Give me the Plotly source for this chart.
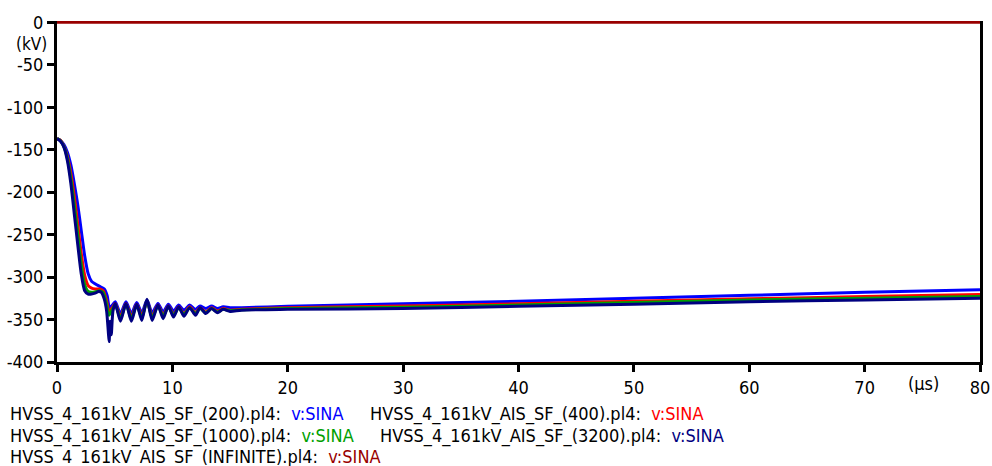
import plotly.graph_objects as go

FONT = "DejaVu Sans Condensed, Liberation Sans, Arial, sans-serif"

# Time axis in microseconds, voltage in kV (node SINA)
labels = [
    "HVSS_4_161kV_AIS_SF_(200).pl4:",
    "HVSS_4_161kV_AIS_SF_(400).pl4:",
    "HVSS_4_161kV_AIS_SF_(1000).pl4:",
    "HVSS_4_161kV_AIS_SF_(3200).pl4:",
    "HVSS_4_161kV_AIS_SF_(INFINITE).pl4:",
]
signal = "v:SINA"
colors = ["#0000ff", "#ff0000", "#00a000", "#000080", "#990000"]

t_200 = [0, 0.3, 0.6, 0.9, 1.2, 1.5, 1.8, 2.1, 2.4, 2.7, 3.0, 3.3, 3.7, 4.1, 4.35, 4.55,
         4.8, 5.05, 5.5, 5.98, 6.45, 6.91, 7.35, 7.8, 8.25, 8.75, 9.2, 9.65, 10.1, 10.55,
         11.0, 11.5, 12.0, 12.4, 12.9, 13.4, 13.9, 14.4, 15, 16, 20, 30, 40, 50, 60, 70, 80]
v_200 = [-137, -139, -144, -153, -168, -190, -215, -245, -275, -296, -305, -308, -311, -314, -322, -336,
         -333, -329, -343, -329, -343, -330, -342, -327, -342, -331, -341, -332, -340, -333,
         -339, -333, -338, -334, -337, -334, -337, -335, -336, -336, -334.5, -331.5, -328.5, -325, -321.5, -318, -315]

t_400 = [0, 0.3, 0.6, 0.9, 1.2, 1.5, 1.8, 2.1, 2.4, 2.7, 3.0, 3.3, 3.7, 4.0, 4.3, 4.5,
         4.8, 5.05, 5.5, 5.98, 6.45, 6.91, 7.35, 7.8, 8.25, 8.75, 9.2, 9.65, 10.1, 10.55,
         11.0, 11.5, 12.0, 12.4, 12.9, 13.4, 13.9, 14.4, 15, 16, 20, 30, 40, 50, 60, 70, 80]
v_400 = [-137, -139, -146, -158, -178, -205, -238, -272, -298, -310, -313, -314, -314, -316, -328, -340,
         -336, -331, -347, -331, -347, -332, -346, -328, -346, -333, -345, -334, -344, -335,
         -343, -335, -342, -336, -341, -336, -340, -337, -339, -338, -336, -334, -331.5, -328.5, -325.5, -323, -320.5]

t_1000 = [0, 0.3, 0.6, 0.9, 1.2, 1.5, 1.8, 2.1, 2.4, 2.7, 3.0, 3.3, 3.7, 4.0, 4.3, 4.5,
          4.8, 5.05, 5.5, 5.98, 6.45, 6.91, 7.35, 7.8, 8.25, 8.75, 9.2, 9.65, 10.1, 10.55,
          11.0, 11.5, 12.0, 12.4, 12.9, 13.4, 13.9, 14.4, 15, 16, 20, 30, 40, 50, 60, 70, 80]
v_1000 = [-137, -139.5, -146.5, -160, -184, -215, -250, -285, -309, -317, -318, -317.5, -316, -318, -332, -345,
          -338, -332, -349, -332, -349, -333, -348, -328, -348, -334, -346, -335, -345, -336,
          -344, -336, -343, -337, -342, -337, -341, -338, -339.5, -338.5, -337, -335.5, -333, -330, -327, -325, -323]

t_3200 = [0, 0.3, 0.6, 0.9, 1.2, 1.5, 1.8, 2.1, 2.4, 2.7, 3.0, 3.3, 3.6, 3.85, 4.1, 4.3, 4.45, 4.52,
          4.6, 4.7, 4.85, 5.05, 5.5, 5.98, 6.45, 6.91, 7.35, 7.8, 8.25, 8.75, 9.2, 9.65, 10.1, 10.55,
          11.0, 11.5, 12.0, 12.4, 12.9, 13.4, 13.9, 14.4, 15, 16, 20, 30, 40, 50, 60, 70, 80]
v_3200 = [-137, -140, -147, -163, -190, -226, -262, -296, -316, -320, -320, -319, -317, -318, -326, -340, -365, -376,
          -352, -368, -340, -331, -352, -331, -352, -332, -351, -326, -351, -333, -349, -334, -347, -335,
          -346, -336, -345, -336, -343, -337, -342, -338, -340.5, -339, -338, -337, -334.5, -332, -329, -327, -325]

t_inf = [0, 80]
v_inf = [0, 0]

x_ticks = [0, 10, 20, 30, 40, 50, 60, 70, 80]
y_ticks = [0, -50, -100, -150, -200, -250, -300, -350, -400]

series = [(t_200, v_200), (t_400, v_400), (t_1000, v_1000), (t_3200, v_3200), (t_inf, v_inf)]

fig = go.Figure()
for (t, v), name, col in zip(series, labels, colors):
    fig.add_trace(go.Scatter(
        x=t, y=v, mode="lines", name=name,
        line=dict(color=col, width=3, shape="spline", smoothing=0.7),
        showlegend=False,
    ))

# Plot-area geometry in pixels, used to place the text labels
W, H = 992, 466
L, R, T, B = 57, 12, 21, 104
pw, ph = W - L - R, H - T - B
FS = 18


def px_x(px):
    return (px - L) / pw


def px_y(py):
    return (H - B - py) / ph


# Legend rows as text: file name followed by the coloured signal name
legend_pos = [(8, 414), (368, 414), (8, 436), (378, 436), (8, 457)]
annotations = []
for (lx, ly), name, col in zip(legend_pos, labels, colors):
    annotations.append(dict(
        x=px_x(lx), y=px_y(ly), xref="paper", yref="paper",
        xanchor="left", yanchor="middle", showarrow=False,
        text=f"{name}  <span style='color:{col}'>{signal}</span>",
        font=dict(family=FONT, size=FS, color="#000000"),
    ))

# Unit labels
annotations.append(dict(
    x=px_x(49), y=px_y(44), xref="paper", yref="paper",
    xanchor="right", yanchor="middle", showarrow=False,
    text="(kV)", font=dict(family=FONT, size=17, color="#000000"),
))
annotations.append(dict(
    x=px_x(923), y=px_y(383), xref="paper", yref="paper",
    xanchor="center", yanchor="middle", showarrow=False,
    text="(µs)", font=dict(family=FONT, size=FS, color="#000000"),
))

fig.update_layout(
    width=W, height=H,
    margin=dict(l=L, r=R, t=T, b=B, pad=0, autoexpand=False),
    paper_bgcolor="white", plot_bgcolor="white",
    font=dict(family=FONT, size=FS, color="#000000"),
    annotations=annotations,
)
fig.update_xaxes(
    range=[0, 80], tickvals=x_ticks, ticktext=[str(v) for v in x_ticks],
    showgrid=False, zeroline=False, automargin=False,
    showline=True, linecolor="black", linewidth=3,
    ticks="outside", ticklen=7, tickwidth=2.5, tickcolor="black",
    tickfont=dict(family=FONT, size=FS, color="black"),
)
fig.update_yaxes(
    range=[-400, 1.5], tickvals=y_ticks, ticktext=[str(v) for v in y_ticks],
    showgrid=False, zeroline=False, automargin=False,
    showline=True, linecolor="black", linewidth=3, mirror=True,
    ticks="outside", ticklen=7, tickwidth=2.5, tickcolor="black",
    tickfont=dict(family=FONT, size=FS, color="black"),
)

fig.write_html("out.html")
